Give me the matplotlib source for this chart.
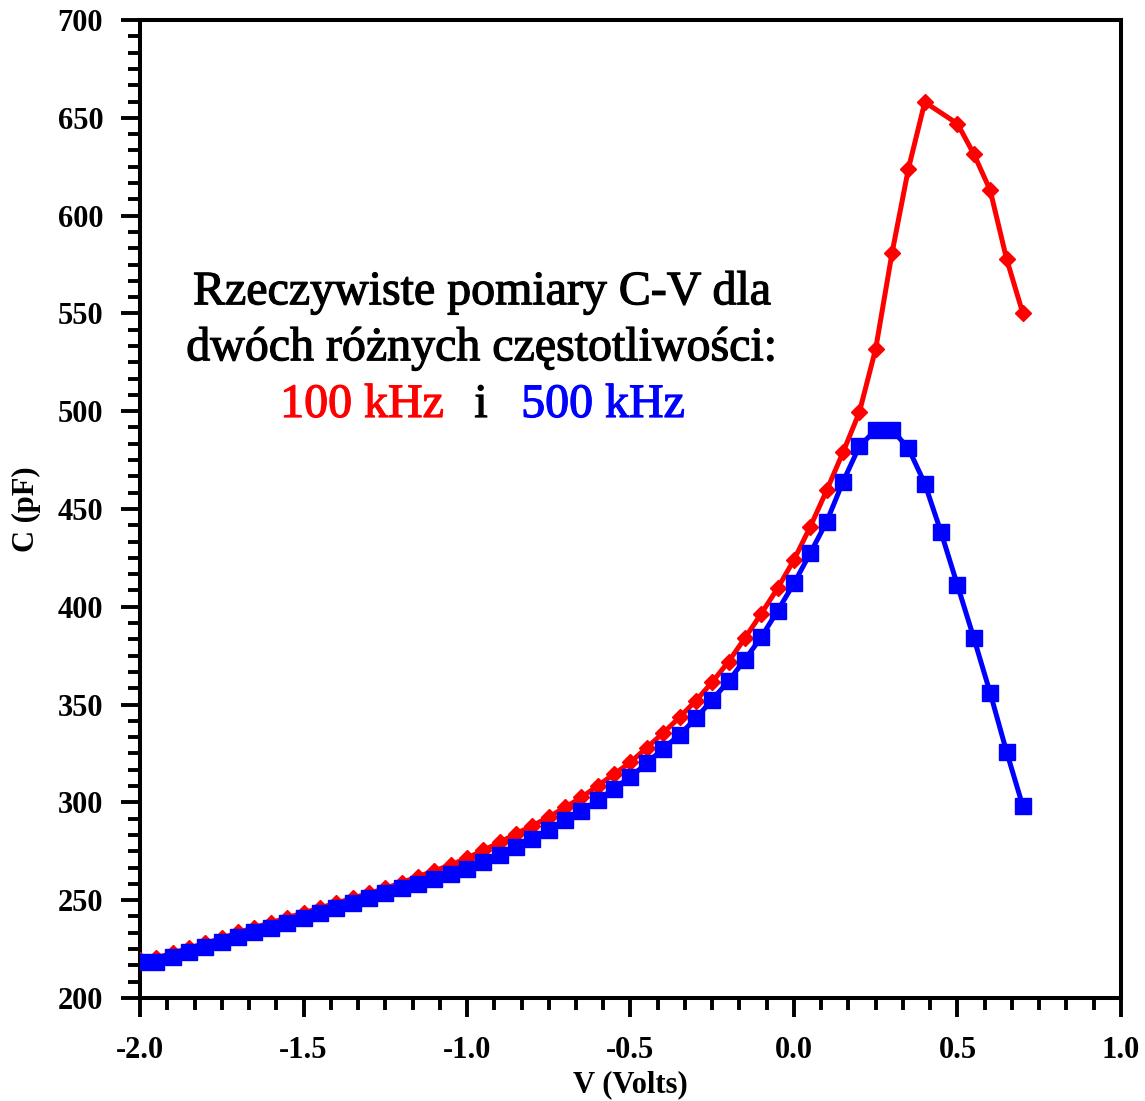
import matplotlib
matplotlib.use("Agg")
import matplotlib.pyplot as plt
import matplotlib.patheffects as pe
from matplotlib.ticker import MultipleLocator

# C-V measurement, bias voltage in V, capacitance in pF
V_100K = [-2.0, -1.95, -1.9, -1.85, -1.8, -1.75, -1.7, -1.65, -1.6, -1.55,
          -1.5, -1.45, -1.4, -1.35, -1.3, -1.25, -1.2, -1.15, -1.1, -1.05,
          -1.0, -0.95, -0.9, -0.85, -0.8, -0.75, -0.7, -0.65, -0.6, -0.55,
          -0.5, -0.45, -0.4, -0.35, -0.3, -0.25, -0.2, -0.15, -0.1, -0.05,
          0.0, 0.05, 0.1, 0.15, 0.2, 0.25, 0.3, 0.35, 0.4, 0.5,
          0.55, 0.6, 0.65, 0.7]
C_100K = [219.5, 220.5, 223.0, 225.5, 228.0, 230.5, 233.5, 236.0, 238.5, 241.0,
          243.5, 246.0, 248.5, 251.0, 253.5, 256.0, 259.0, 262.0, 265.0, 268.0,
          271.5, 275.5, 279.5, 284.0, 288.0, 292.5, 297.5, 302.5, 308.5, 314.5,
          320.5, 328.0, 335.5, 343.5, 352.0, 361.5, 372.0, 384.0, 396.5, 409.5,
          424.0, 441.0, 459.5, 479.0, 499.5, 532.0, 581.0, 624.0, 658.0, 647.0,
          631.5, 613.0, 578.0, 550.0]

V_500K = [-2.0, -1.95, -1.9, -1.85, -1.8, -1.75, -1.7, -1.65, -1.6, -1.55,
          -1.5, -1.45, -1.4, -1.35, -1.3, -1.25, -1.2, -1.15, -1.1, -1.05,
          -1.0, -0.95, -0.9, -0.85, -0.8, -0.75, -0.7, -0.65, -0.6, -0.55,
          -0.5, -0.45, -0.4, -0.35, -0.3, -0.25, -0.2, -0.15, -0.1, -0.05,
          0.0, 0.05, 0.1, 0.15, 0.2, 0.25, 0.3, 0.35, 0.4, 0.45,
          0.5, 0.55, 0.6, 0.65, 0.7]
C_500K = [218.5, 218.5, 221.0, 223.5, 226.0, 228.5, 231.0, 233.5, 236.0, 238.5,
          241.0, 243.5, 246.0, 248.5, 251.0, 253.5, 256.0, 258.5, 261.0, 263.5,
          266.0, 269.5, 273.0, 277.0, 281.5, 286.0, 291.0, 295.5, 301.0, 307.0,
          313.0, 320.0, 327.5, 334.5, 343.0, 352.5, 362.0, 373.0, 384.5, 398.0,
          412.0, 427.5, 443.5, 464.0, 482.0, 490.5, 490.5, 481.0, 463.0, 438.0,
          411.0, 384.0, 356.0, 326.0, 298.0]

SERIF_B = dict(family="Liberation Serif", weight="bold")

fig = plt.figure(figsize=(11.45, 11.01), dpi=100)
ax = fig.add_axes([0.1223, 0.0936, 0.8567, 0.8882])

ax.plot(V_100K, C_100K, color="#ff0000", lw=3.6, marker="D", ms=8,
        mfc="#ff0000", mec="#ff0000", zorder=3)
ax.plot(V_500K, C_500K, color="#0000ff", lw=3.6, marker="s", ms=11.5,
        mfc="#0000ff", mec="#0000ff", zorder=4)

ax.set_xlim(-2.0, 1.0)
ax.set_ylim(200, 700)
ax.xaxis.set_major_locator(MultipleLocator(0.5))
ax.xaxis.set_minor_locator(MultipleLocator(0.5 / 6))
ax.yaxis.set_major_locator(MultipleLocator(50))
ax.yaxis.set_minor_locator(MultipleLocator(50 / 6))
ax.set_xticklabels([f"{v:.1f}" for v in ax.get_xticks()])
ax.tick_params(which="major", direction="out", length=13.5, width=2.8)
ax.tick_params(which="minor", direction="out", length=8.5, width=2.8)
ax.tick_params(axis="x", which="major", pad=14)
ax.tick_params(axis="y", which="major", pad=13)
for lab in ax.get_xticklabels() + ax.get_yticklabels():
    lab.set_fontproperties(dict(SERIF_B, size=22))
for s in ax.spines.values():
    s.set_linewidth(2.9)

ax.set_xlabel("V (Volts)", fontsize=22, labelpad=4, **SERIF_B)
ax.set_ylabel("C (pF)", fontsize=22, labelpad=12, **SERIF_B)

# annotation block
txt = dict(family="Liberation Serif", fontsize=34.5, ha="center", va="center")
lines = [
    (482, 292, "Rzeczywiste pomiary C-V dla", "black"),
    (482, 348, "dwóch różnych częstotliwości:", "black"),
    (362, 405, "100 kHz", "#ff0000"),
    (481, 405, "i", "black"),
    (603, 405, "500 kHz", "#0000ff"),
]
for x, y, s, c in lines:
    fig.text(x / 1145, 1 - y / 1101, s, color=c,
             path_effects=[pe.withStroke(linewidth=0.9, foreground=c)], **txt)

fig.savefig("out.png", dpi=100)
